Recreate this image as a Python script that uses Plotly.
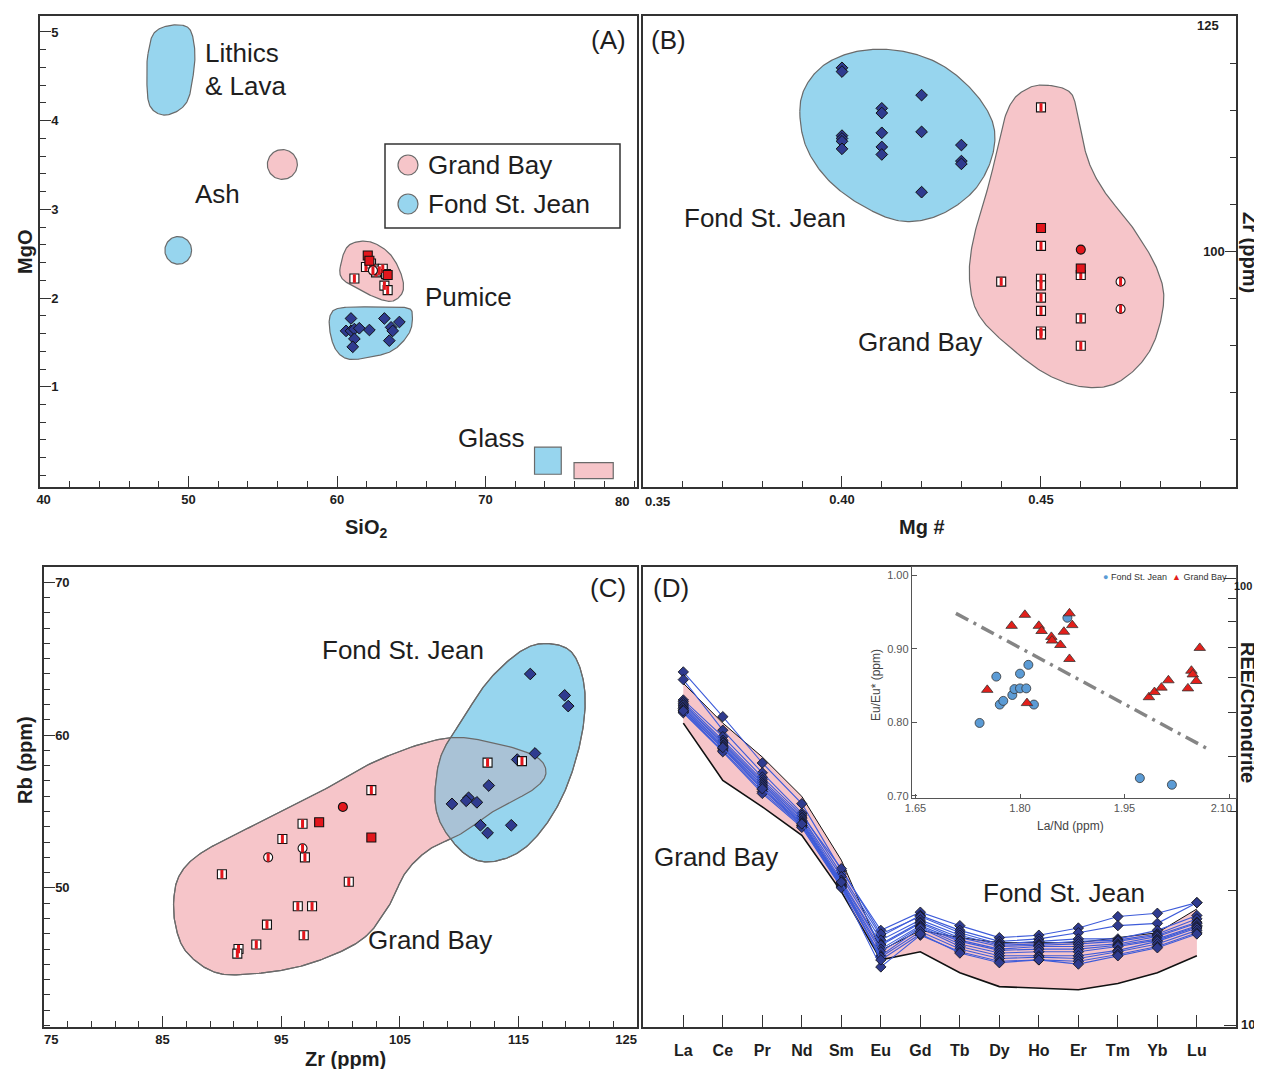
import numpy as np
import plotly.graph_objects as go

# the page body adds an 8px margin all round, so the figure is drawn smaller and shifted
OFF = 8
W, H = 1262 - OFF, 1077 - 2 * OFF
FONT = "Liberation Sans"
INK = "#1e1e1e"
PINK = "#f6c5c9"
BLUE = "#97d5ee"
OVERLAP = "#a9c2d6"
EDGE = "#6a6a6a"
RED = "#e3161c"
NAVY = "#2f3b8f"
LINEBLUE = "#3d5bd9"
NB = "\u00a0"

# ---------------- Panel A : MgO vs SiO2 ----------------
a_gb_half_sio2 = [61.95, 62.29, 62.51, 62.63, 62.85, 63.08, 63.30, 63.19, 63.41, 61.17]
a_gb_half_mgo = [2.35, 2.39, 2.33, 2.29, 2.31, 2.33, 2.27, 2.14, 2.09, 2.22]
a_gb_full_sio2 = [62.07, 62.18, 63.41]
a_gb_full_mgo = [2.48, 2.42, 2.26]
a_gb_circ_sio2 = [62.42]
a_gb_circ_mgo = [2.31]
a_fsj_sio2 = [60.94, 60.61, 60.94, 61.17, 61.50, 62.18, 63.19, 63.64, 64.20, 61.17, 61.06, 63.52, 63.75]
a_fsj_mgo = [1.77, 1.63, 1.63, 1.65, 1.66, 1.64, 1.77, 1.67, 1.73, 1.54, 1.45, 1.52, 1.63]
a_sio2_ticks = [40, 50, 60, 70, 80]
a_mgo_ticks = [1, 2, 3, 4, 5]

# field outlines (control points, data units)
lithics_sio2 = [47.27, 47.68, 48.77, 49.99, 50.40, 50.35, 49.86, 48.50, 47.41, 47.19]
lithics_mgo = [4.752, 4.988, 5.074, 5.047, 4.831, 4.555, 4.202, 4.064, 4.163, 4.476]
pumice_gb_sio2 = [60.22, 60.76, 62.13, 63.49, 64.31, 64.44, 63.76, 62.67, 61.31, 60.36]
pumice_gb_mgo = [2.353, 2.589, 2.637, 2.510, 2.274, 2.078, 1.967, 2.000, 2.117, 2.216]
pumice_fsj_sio2 = [59.54, 60.22, 62.67, 64.71, 65.07, 64.86, 63.76, 62.13, 60.76, 59.95, 59.54]
pumice_fsj_mgo = [1.803, 1.889, 1.901, 1.889, 1.803, 1.606, 1.410, 1.331, 1.312, 1.410, 1.606]
ash_gb_center = (56.32, 3.506)
ash_gb_radius = (1.01, 0.168)
ash_fsj_center = (49.31, 2.538)
ash_fsj_radius = (0.90, 0.156)
glass_fsj_sio2 = [73.3, 75.1]
glass_fsj_mgo = [0.014, 0.319]
glass_gb_sio2 = [75.96, 78.6]
glass_gb_mgo = [-0.036, 0.144]

# ---------------- Panel B : Zr vs Mg# ----------------
b_fsj_mg = [0.40, 0.40, 0.40, 0.40, 0.40, 0.40, 0.41, 0.41, 0.41, 0.41, 0.41, 0.42, 0.42, 0.42, 0.43, 0.43, 0.43]
b_fsj_zr = [119.5, 119.1, 112.3, 112.0, 111.7, 110.9, 115.2, 114.7, 112.6, 111.1, 110.3, 116.6, 112.7, 106.3, 111.3, 109.6, 109.3]
b_gb_half_mg = [0.45, 0.45, 0.44, 0.45, 0.45, 0.45, 0.45, 0.45, 0.45, 0.46, 0.46, 0.46]
b_gb_half_zr = [115.3, 100.6, 96.8, 97.1, 96.4, 95.1, 93.7, 91.5, 91.2, 97.5, 92.9, 90.0]
b_gb_full_mg = [0.45, 0.46]
b_gb_full_zr = [102.5, 98.2]
b_gb_circ_full_mg = [0.46]
b_gb_circ_full_zr = [100.2]
b_gb_circ_half_mg = [0.47, 0.47]
b_gb_circ_half_zr = [96.8, 93.9]
b_mg_ticks = [0.35, 0.40, 0.45]
b_zr_ticks = [100, 125]
b_gb_field_mg = [0.4526, 0.4577, 0.4594, 0.4620, 0.4662, 0.4731, 0.4791, 0.4808, 0.4774, 0.4697,
                 0.4611, 0.4517, 0.4423, 0.4346, 0.4321, 0.4329, 0.4372, 0.4415, 0.4466]
b_gb_field_zr = [117.6, 116.7, 113.8, 109.5, 106.2, 102.5, 98.2, 94.5, 89.5, 86.2,
                 85.6, 86.9, 89.8, 93.1, 96.7, 101.1, 107.6, 114.9, 117.3]
b_fsj_field_mg = [0.3894, 0.3911, 0.3962, 0.4045, 0.4146, 0.4246, 0.4330, 0.4380, 0.4376, 0.4330,
                  0.4246, 0.4154, 0.4062, 0.3970, 0.3911]
b_fsj_field_zr = [114.9, 117.7, 120.0, 121.3, 121.3, 119.9, 117.0, 113.5, 109.9, 106.4,
                  103.9, 103.2, 104.6, 107.4, 111.0]

# ---------------- Panel C : Rb vs Zr ----------------
c_gb_half_zr = [102.6, 96.8, 95.1, 97.0, 90.0, 100.7, 96.4, 97.6, 93.8, 92.9, 96.9, 91.4, 91.3, 112.4, 115.3]
c_gb_half_rb = [56.4, 54.2, 53.2, 52.0, 50.9, 50.4, 48.8, 48.8, 47.6, 46.3, 46.9, 46.0, 45.7, 58.2, 58.3]
c_gb_full_zr = [98.2, 102.6]
c_gb_full_rb = [54.3, 53.3]
c_gb_circ_full_zr = [100.2]
c_gb_circ_full_rb = [55.3]
c_gb_circ_half_zr = [96.8, 93.9]
c_gb_circ_half_rb = [52.6, 52.0]
c_fsj_zr = [116.0, 118.9, 119.2, 116.4, 114.9, 112.5, 110.8, 110.6, 111.5, 109.4, 111.8, 112.4, 114.4]
c_fsj_rb = [64.0, 62.6, 61.9, 58.8, 58.4, 56.7, 55.9, 55.7, 55.6, 55.5, 54.1, 53.6, 54.1]
c_zr_ticks = [75, 85, 95, 105, 115, 125]
c_rb_ticks = [50, 60, 70]
c_gb_field_zr = [85.96, 86.52, 88.22, 91.89, 97.54, 103.19, 108.84, 113.08, 116.47, 117.32, 116.19,
                 113.08, 110.25, 107.43, 105.45, 104.04, 101.78, 97.54, 93.30, 89.63, 87.09, 86.10]
c_gb_field_rb = [49.44, 50.96, 52.27, 53.79, 55.97, 58.37, 59.79, 59.46, 58.59, 57.50, 56.41,
                 55.10, 53.58, 52.49, 50.96, 48.78, 46.61, 45.08, 44.43, 44.43, 45.73, 47.48]
c_fsj_field_zr = [108.00, 108.56, 110.25, 112.51, 115.34, 117.60, 119.58, 120.56, 120.42, 119.29,
                  117.60, 115.34, 112.80, 110.82, 109.13, 108.14]
c_fsj_field_rb = [56.63, 58.81, 60.98, 63.60, 65.56, 65.99, 65.34, 63.16, 60.33, 57.06,
                  54.45, 52.49, 51.72, 52.05, 53.36, 54.88]

# ---------------- Panel D : REE / chondrite ----------------
ree_elements = ["La", "Ce", "Pr", "Nd", "Sm", "Eu", "Gd", "Tb", "Dy", "Ho", "Er", "Tm", "Yb", "Lu"]
ree_gb_upper = [58.2, 47.4, 39.8, 32.5, 23.4, 14.7, 16.3, 15.7, 15.3, 15.3, 15.3, 15.7, 16.1, 18.2]
ree_gb_lower = [47.4, 35.3, 30.8, 26.6, 19.9, 14.0, 14.6, 13.1, 12.2, 12.1, 12.0, 12.4, 13.1, 14.3]
ree_fsj_samples = [
    [61.7, 49.0, 38.6, 31.3, 22.2, 16.3, 17.9, 16.7, 15.7, 15.9, 16.5, 17.5, 17.8, 18.8],
    [59.3, 45.7, 36.7, 29.8, 21.8, 15.8, 17.6, 16.3, 15.4, 15.6, 16.1, 16.7, 16.9, 18.8],
    [53.4, 44.2, 35.9, 29.5, 22.4, 16.0, 17.5, 16.1, 15.2, 15.4, 15.6, 15.6, 16.3, 17.6],
    [52.9, 43.4, 35.4, 29.2, 21.5, 15.5, 17.2, 15.9, 15.1, 15.2, 15.4, 15.5, 16.0, 17.3],
    [52.4, 43.0, 35.0, 29.0, 21.1, 15.2, 17.0, 15.7, 15.0, 15.1, 15.2, 15.4, 15.9, 17.0],
    [52.0, 42.7, 34.7, 28.7, 20.9, 15.1, 16.9, 15.5, 14.8, 15.0, 15.0, 15.2, 15.8, 16.9],
    [51.5, 42.3, 34.4, 28.5, 20.7, 14.8, 16.7, 15.4, 14.7, 14.8, 14.8, 15.1, 15.6, 16.7],
    [51.1, 42.0, 34.1, 28.3, 20.6, 14.6, 16.6, 15.2, 14.5, 14.6, 14.6, 15.0, 15.5, 16.6],
    [50.7, 41.6, 33.7, 28.0, 20.5, 14.3, 16.5, 15.0, 14.3, 14.3, 14.3, 14.7, 15.4, 16.5],
    [50.2, 41.2, 33.3, 27.9, 20.4, 14.2, 16.2, 14.8, 14.1, 14.2, 14.1, 14.6, 15.2, 16.3],
    [50.0, 40.9, 33.0, 27.7, 20.3, 13.5, 15.9, 14.6, 13.9, 14.0, 13.9, 14.4, 15.0, 16.1],
    [50.5, 41.8, 33.8, 28.2, 20.9, 14.0, 16.0, 14.5, 13.8, 14.0, 13.7, 14.3, 14.9, 16.0],
]
ree_ticks = [10, 100]
ree_minor_ticks = [20, 30, 40, 50, 60, 70, 80, 90]

# ---------------- Inset : Eu/Eu* vs La/Nd ----------------
in_fsj_lan = [1.742, 1.766, 1.771, 1.776, 1.789, 1.792, 1.800, 1.800, 1.809, 1.812, 1.820, 1.972, 2.018, 1.868]
in_fsj_eu = [0.799, 0.862, 0.824, 0.829, 0.837, 0.845, 0.866, 0.846, 0.846, 0.878, 0.824, 0.724, 0.715, 0.942]
in_gb_lan = [1.753, 1.788, 1.807, 1.810, 1.827, 1.831, 1.845, 1.846, 1.858, 1.863, 1.871, 1.875, 1.871,
             1.985, 1.993, 2.003, 2.013, 2.041, 2.046, 2.048, 2.053, 2.058]
in_gb_eu = [0.844, 0.931, 0.946, 0.826, 0.931, 0.924, 0.916, 0.911, 0.905, 0.923, 0.948, 0.932, 0.886,
            0.834, 0.841, 0.847, 0.857, 0.846, 0.870, 0.865, 0.856, 0.901]
trend_lan = [1.708, 2.071]
trend_eu = [0.948, 0.763]
in_lan_ticks = [1.65, 1.80, 1.95, 2.10]
in_eu_ticks = [0.70, 0.80, 0.90, 1.00]


# ---------------- helpers ----------------
def smooth_closed(xs, ys, n=24):
    p = np.column_stack([xs, ys]).astype(float)
    N = len(p)
    t = np.linspace(0, 1, n, endpoint=False)[:, None]
    segs = []
    for i in range(N):
        p0, p1, p2, p3 = p[(i - 1) % N], p[i], p[(i + 1) % N], p[(i + 2) % N]
        seg = 0.5 * ((2 * p1) + (-p0 + p2) * t + (2 * p0 - 5 * p1 + 4 * p2 - p3) * t ** 2
                     + (-p0 + 3 * p1 - 3 * p2 + p3) * t ** 3)
        segs.append(seg)
    pts_ = np.vstack(segs)
    pts_ = np.vstack([pts_, pts_[:1]])
    return pts_[:, 0], pts_[:, 1]


def ellipse(center, radius, n=90):
    th = np.linspace(0, 2 * np.pi, n)
    return center[0] + radius[0] * np.cos(th), center[1] + radius[1] * np.sin(th)


def clip_convex(subject, clip):
    area = 0.5 * sum(clip[i][0] * clip[(i + 1) % len(clip)][1] - clip[(i + 1) % len(clip)][0] * clip[i][1]
                     for i in range(len(clip)))
    if area < 0:
        clip = clip[::-1]

    def inside(p, a, b):
        return (b[0] - a[0]) * (p[1] - a[1]) - (b[1] - a[1]) * (p[0] - a[0]) >= 0

    def inter(p1, p2, a, b):
        x1, y1 = p1; x2, y2 = p2; x3, y3 = a; x4, y4 = b
        den = (x1 - x2) * (y3 - y4) - (y1 - y2) * (x3 - x4)
        if abs(den) < 1e-15:
            return p2
        tt = ((x1 - x3) * (y3 - y4) - (y1 - y3) * (x3 - x4)) / den
        return (x1 + tt * (x2 - x1), y1 + tt * (y2 - y1))

    out = list(subject)
    for i in range(len(clip)):
        a, b = clip[i], clip[(i + 1) % len(clip)]
        inp, out = out, []
        if not inp:
            break
        s = inp[-1]
        for e in inp:
            if inside(e, a, b):
                if not inside(s, a, b):
                    out.append(inter(s, e, a, b))
                out.append(e)
            elif inside(s, a, b):
                out.append(inter(s, e, a, b))
            s = e
    return out


fig = go.Figure()


def field(x, y, fill, xa, ya, line=EDGE, width=1.2):
    fig.add_trace(go.Scatter(x=list(x), y=list(y), mode="lines", fill="toself", fillcolor=fill,
                             line=dict(color=line, width=width), xaxis=xa, yaxis=ya,
                             hoverinfo="skip", showlegend=False))


def outline(x, y, xa, ya, line=EDGE, width=1.2):
    fig.add_trace(go.Scatter(x=list(x), y=list(y), mode="lines", line=dict(color=line, width=width),
                             xaxis=xa, yaxis=ya, hoverinfo="skip", showlegend=False))


def pts(x, y, kind, xa, ya, size=9):
    def add(marker):
        fig.add_trace(go.Scatter(x=x, y=y, mode="markers", marker=marker, xaxis=xa, yaxis=ya,
                                 hoverinfo="skip", showlegend=False))
    if kind == "sq_half":
        add(dict(symbol="square", size=size, color="white", line=dict(color="#111", width=1.1)))
        add(dict(symbol="line-ns", size=size - 3, color=RED, line=dict(color=RED, width=3)))
    elif kind == "sq_full":
        add(dict(symbol="square", size=size, color=RED, line=dict(color="#111", width=1.1)))
    elif kind == "ci_full":
        add(dict(symbol="circle", size=size, color=RED, line=dict(color="#111", width=1.1)))
    elif kind == "ci_half":
        add(dict(symbol="circle", size=size, color="white", line=dict(color="#111", width=1.1)))
        add(dict(symbol="line-ns", size=size - 3, color=RED, line=dict(color=RED, width=3)))
    elif kind == "dia":
        add(dict(symbol="diamond", size=size, color=NAVY, line=dict(color="#111", width=1)))


# ---------------- Panel A traces ----------------
field(*smooth_closed(lithics_sio2, lithics_mgo), BLUE, "x", "y")
field(*ellipse(ash_gb_center, ash_gb_radius), PINK, "x", "y")
field(*ellipse(ash_fsj_center, ash_fsj_radius), BLUE, "x", "y")
field(*smooth_closed(pumice_gb_sio2, pumice_gb_mgo), PINK, "x", "y")
field(*smooth_closed(pumice_fsj_sio2, pumice_fsj_mgo), BLUE, "x", "y")
pts(a_gb_half_sio2, a_gb_half_mgo, "sq_half", "x", "y")
pts(a_gb_full_sio2, a_gb_full_mgo, "sq_full", "x", "y")
pts(a_gb_circ_sio2, a_gb_circ_mgo, "ci_half", "x", "y")
pts(a_fsj_sio2, a_fsj_mgo, "dia", "x", "y")

# ---------------- Panel B traces ----------------
field(*smooth_closed(b_fsj_field_mg, b_fsj_field_zr), BLUE, "x2", "y2")
field(*smooth_closed(b_gb_field_mg, b_gb_field_zr), PINK, "x2", "y2")
pts(b_fsj_mg, b_fsj_zr, "dia", "x2", "y2")
pts(b_gb_half_mg, b_gb_half_zr, "sq_half", "x2", "y2")
pts(b_gb_full_mg, b_gb_full_zr, "sq_full", "x2", "y2")
pts(b_gb_circ_full_mg, b_gb_circ_full_zr, "ci_full", "x2", "y2")
pts(b_gb_circ_half_mg, b_gb_circ_half_zr, "ci_half", "x2", "y2")

# ---------------- Panel C traces ----------------
cgx, cgy = smooth_closed(c_gb_field_zr, c_gb_field_rb)
cbx, cby = smooth_closed(c_fsj_field_zr, c_fsj_field_rb)
field(cgx, cgy, PINK, "x3", "y3")
field(cbx, cby, BLUE, "x3", "y3")
ov = clip_convex(list(zip(cgx[:-1], cgy[:-1])), list(zip(cbx[:-1], cby[:-1])))
if ov:
    ovx = [p[0] for p in ov] + [ov[0][0]]
    ovy = [p[1] for p in ov] + [ov[0][1]]
    field(ovx, ovy, OVERLAP, "x3", "y3", line="rgba(0,0,0,0)", width=0)
outline(cgx, cgy, "x3", "y3")
outline(cbx, cby, "x3", "y3")
pts(c_fsj_zr, c_fsj_rb, "dia", "x3", "y3")
pts(c_gb_half_zr, c_gb_half_rb, "sq_half", "x3", "y3")
pts(c_gb_full_zr, c_gb_full_rb, "sq_full", "x3", "y3")
pts(c_gb_circ_full_zr, c_gb_circ_full_rb, "ci_full", "x3", "y3")
pts(c_gb_circ_half_zr, c_gb_circ_half_rb, "ci_half", "x3", "y3")

# ---------------- Panel D traces ----------------
ree_x = list(range(len(ree_elements)))
fig.add_trace(go.Scatter(x=ree_x, y=ree_gb_lower, mode="lines", line=dict(color="#111", width=1.6),
                         xaxis="x4", yaxis="y4", hoverinfo="skip", showlegend=False))
fig.add_trace(go.Scatter(x=ree_x, y=ree_gb_upper, mode="lines", line=dict(color="#111", width=1),
                         fill="tonexty", fillcolor=PINK, xaxis="x4", yaxis="y4",
                         hoverinfo="skip", showlegend=False))
for sample in ree_fsj_samples:
    fig.add_trace(go.Scatter(x=ree_x, y=sample, mode="lines+markers",
                             line=dict(color=LINEBLUE, width=1.1),
                             marker=dict(symbol="diamond", size=8, color=NAVY,
                                         line=dict(color="#111", width=0.8)),
                             xaxis="x4", yaxis="y4", hoverinfo="skip", showlegend=False))

# ---------------- Inset traces ----------------
fig.add_trace(go.Scatter(x=trend_lan, y=trend_eu, mode="lines",
                         line=dict(color="#858585", width=3.5, dash="14px,6px,3px,6px"),
                         xaxis="x5", yaxis="y5", hoverinfo="skip", showlegend=False))
fig.add_trace(go.Scatter(x=in_fsj_lan, y=in_fsj_eu, mode="markers",
                         marker=dict(symbol="circle", size=9, color="#5b9bd5",
                                     line=dict(color="#333", width=0.8)),
                         xaxis="x5", yaxis="y5", hoverinfo="skip", showlegend=False))
fig.add_trace(go.Scatter(x=in_gb_lan, y=in_gb_eu, mode="markers",
                         marker=dict(symbol="triangle-up", size=10, color="#e3201b",
                                     line=dict(color="#333", width=0.8)),
                         xaxis="x5", yaxis="y5", hoverinfo="skip", showlegend=False))


# ---------------- axes ----------------
def px(x):
    return (x - OFF) / W


def py(y):
    return 1 - (y - OFF) / H


TICKFONT = dict(family=FONT, size=13, color=INK, weight="bold")


def ax(**kw):
    base = dict(showline=True, linecolor="#333", linewidth=1.5, mirror=True, showgrid=False,
                zeroline=False, ticks="inside", tickcolor="#333", tickwidth=1.3, ticklen=11,
                tickfont=TICKFONT, fixedrange=True, automargin=False)
    base.update(kw)
    return base


def minor(**kw):
    base = dict(ticks="inside", ticklen=6, tickcolor="#333", tickwidth=1.2, showgrid=False)
    base.update(kw)
    return base


def labels(vals, fmt="{:g}", pad_left=None, pad_right=None, n_left=4, n_right=6):
    out = []
    for v in vals:
        s = fmt.format(v)
        if pad_left is not None and v == pad_left:
            s = NB * n_left + s
        if pad_right is not None and v == pad_right:
            s = s + NB * n_right
        out.append(s)
    return out


top_dom = [py(487), py(16)]
bot_dom = [py(1027), py(567)]

fig.update_layout(
    width=W, height=H, margin=dict(l=0, r=0, t=0, b=0, autoexpand=False),
    paper_bgcolor="white", plot_bgcolor="rgba(0,0,0,0)", showlegend=False,
    font=dict(family=FONT, color=INK),
    xaxis=ax(domain=[px(40), px(637)], range=[40, 80.2], anchor="y", tickmode="array",
             tickvals=a_sio2_ticks[:-1], ticktext=labels(a_sio2_ticks[:-1], pad_left=40, n_left=2),
             minor=minor(dtick=2, tick0=40)),
    yaxis=ax(domain=top_dom, range=[-0.13, 5.18], anchor="x", tickmode="array",
             tickvals=a_mgo_ticks, ticklabelposition="inside", ticklabeloverflow="allow",
             minor=minor(dtick=0.2, tick0=0)),
    xaxis2=ax(domain=[px(643), px(1236)], range=[0.35, 0.499], anchor="y2", tickmode="array",
              tickvals=b_mg_ticks[1:], ticktext=labels(b_mg_ticks[1:], fmt="{:.2f}"),
              minor=minor(dtick=0.01, tick0=0.35)),
    yaxis2=ax(domain=top_dom, range=[75, 125], anchor="x2", side="right", tickmode="array",
              tickvals=b_zr_ticks[:1], ticklabelposition="inside", ticklabeloverflow="allow",
              minor=minor(dtick=5, tick0=75)),
    xaxis3=ax(domain=[px(44), px(637)], range=[75, 125], anchor="y3", tickmode="array",
              tickvals=c_zr_ticks, ticktext=labels(c_zr_ticks, pad_left=75, pad_right=125,
                                                   n_left=4, n_right=6),
              minor=minor(dtick=2, tick0=75)),
    yaxis3=ax(domain=bot_dom, range=[40.9, 71.0], anchor="x3", tickmode="array",
              tickvals=c_rb_ticks, ticklabelposition="inside", ticklabeloverflow="allow",
              minor=minor(dtick=1, tick0=40)),
    xaxis4=ax(domain=[px(643), px(1236)], range=[-1.02, 13.99], anchor="y4", tickmode="array",
              tickvals=ree_x, ticktext=ree_elements, ticklen=12, ticklabelstandoff=8,
              tickfont=dict(family=FONT, size=16, color=INK, weight="bold")),
    yaxis4=ax(domain=bot_dom, type="log", range=[0.996, 2.025], anchor="x4", side="right",
              tickmode="array", tickvals=ree_ticks, showticklabels=False, ticklen=12,
              minor=minor(tickmode="array", tickvals=ree_minor_ticks, ticklen=8)),
    xaxis5=ax(domain=[px(912), px(1236)], range=[1.645, 2.11], anchor="y5", tickmode="array",
              tickvals=in_lan_ticks, ticktext=labels(in_lan_ticks, fmt="{:.2f}", pad_right=2.10, n_right=5),
              linecolor="#555", linewidth=1.4, ticklen=4, tickcolor="#555",
              tickfont=dict(family=FONT, size=11, color="#555")),
    yaxis5=ax(domain=[py(798), py(567)], range=[0.697, 1.011], anchor="x5", tickmode="array",
              tickvals=in_eu_ticks, ticktext=labels(in_eu_ticks, fmt="{:.2f}"),
              linecolor="#555", linewidth=1.4, ticklen=5, tickcolor="#555",
              tickfont=dict(family=FONT, size=11, color="#555")),
)

# ---------------- shapes ----------------
shapes = [
    dict(type="rect", xref="x", yref="y", x0=glass_fsj_sio2[0], x1=glass_fsj_sio2[1],
         y0=glass_fsj_mgo[0], y1=glass_fsj_mgo[1], fillcolor=BLUE, line=dict(color=EDGE, width=1.2)),
    dict(type="rect", xref="x", yref="y", x0=glass_gb_sio2[0], x1=glass_gb_sio2[1],
         y0=glass_gb_mgo[0], y1=glass_gb_mgo[1], fillcolor=PINK, line=dict(color=EDGE, width=1.2)),
    # legend of panel A
    dict(type="rect", xref="paper", yref="paper", x0=px(385), x1=px(620), y0=py(228), y1=py(144),
         fillcolor="white", line=dict(color="#333", width=1.5)),
    dict(type="circle", xref="paper", yref="paper", x0=px(398), x1=px(418), y0=py(175), y1=py(155),
         fillcolor=PINK, line=dict(color=EDGE, width=1.2)),
    dict(type="circle", xref="paper", yref="paper", x0=px(398), x1=px(418), y0=py(214), y1=py(194),
         fillcolor=BLUE, line=dict(color=EDGE, width=1.2)),
]
fig.update_layout(shapes=shapes)

# ---------------- text ----------------
anns = []


def text(t, x, y, size=26, anchor="left", bold=False, angle=0, color=INK):
    f = dict(family=FONT, size=size, color=color)
    if bold:
        f["weight"] = "bold"
    anns.append(dict(text=t, x=px(x), y=py(y), xref="paper", yref="paper", showarrow=False,
                     xanchor=anchor, yanchor="middle", font=f, textangle=angle))


# panel A
text("Lithics", 203, 53)
text("&amp; Lava", 203, 86)
text("Ash", 193, 194)
text("Pumice", 423, 297)
text("Glass", 456, 438)
text("(A)", 628, 40, anchor="right")
text("Grand Bay", 426, 165)
text("Fond St. Jean", 426, 204)
text("{:g}".format(a_sio2_ticks[-1]), 622, 501, size=13, anchor="center", bold=True)
text("MgO", 25, 252, size=20, anchor="center", bold=True, angle=-90)
text("SiO<sub>2</sub>", 366, 528, size=20, anchor="center", bold=True)
# panel B
text("(B)", 649, 40)
text("Fond St. Jean", 682, 218)
text("Grand Bay", 856, 342)
text("{:.2f}".format(b_mg_ticks[0]), 657, 501, size=13, anchor="center", bold=True)
text("{:g}".format(b_zr_ticks[-1]), 1208, 25, size=13, anchor="center", bold=True)
text("Mg #", 922, 527, size=20, anchor="center", bold=True)
text("Zr (ppm)", 1250, 252, size=20, anchor="center", bold=True, angle=90)
# panel C
text("(C)", 628, 588, anchor="right")
text("Fond St. Jean", 320, 650)
text("Grand Bay", 366, 940)
text("Rb (ppm)", 25, 760, size=20, anchor="center", bold=True, angle=-90)
text("Zr (ppm)", 345, 1059, size=20, anchor="center", bold=True)
# panel D
text("(D)", 651, 588)
text("Grand Bay", 652, 857)
text("Fond St. Jean", 981, 893)
text("{:g}".format(ree_ticks[1]), 1254, 586, size=11, anchor="right", bold=True)
text("{:g}".format(ree_ticks[0]), 1239, 1024, size=13, bold=True)
text("REE/Chondrite", 1248, 712, size=20, anchor="center", bold=True, angle=90)
# inset
text("Eu/Eu* (ppm)", 876, 685, size=12, anchor="center", angle=-90, color="#444")
text("La/Nd (ppm)", 1070, 826, size=12, anchor="center", color="#444")
text("<span style='color:#5b9bd5'>●</span> Fond St. Jean  <span style='color:#e3201b'>▲</span> Grand Bay",
     1229, 577, size=9, anchor="right", color="#333")
fig.update_layout(annotations=anns)

fig.write_html("out.html")
